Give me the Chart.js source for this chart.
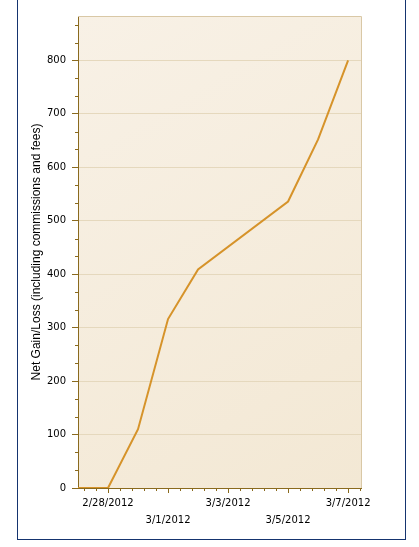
<!DOCTYPE html>
<html>
<head>
<meta charset="utf-8">
<script src="https://cdn.jsdelivr.net/npm/chart.js@4.4.1/dist/chart.umd.min.js"></script>
<style>
  html, body { margin: 0; padding: 0; background: #fff; overflow: hidden; }
  #wrap { position: relative; width: 419px; height: 547px; }
  #frame {
    position: absolute; left: 17px; top: -5px; width: 389px; height: 545px;
    border: 1px solid #15346f; box-sizing: border-box;
  }
  #netChart { position: absolute; left: 0; top: 0; }
</style>
</head>
<body>
<div id="wrap">
  <div id="frame"></div>
  <canvas id="netChart" width="419" height="547"></canvas>
</div>
<script>
// days counted from 2/27/2012 (2012 is a leap year, weekend 3/3-3/4 has no trades)
const tradeDates = ["2/27/2012", "2/28/2012", "2/29/2012", "3/1/2012", "3/2/2012", "3/5/2012", "3/6/2012", "3/7/2012"];
const tradeDays = [0, 1, 2, 3, 4, 7, 8, 9];
const netGain = [0, 0, 110, 316, 409, 536, 652, 800];

const xTickDays = [1, 3, 5, 7, 9];
const xTickLabels = ["2/28/2012", "3/1/2012", "3/3/2012", "3/5/2012", "3/7/2012"];
const yTicks = [0, 100, 200, 300, 400, 500, 600, 700, 800];

const axisBrown = "#8a6a1e";

// plot background, top/right border and minor ticks
const plotDecor = {
  id: "plotDecor",
  beforeDraw(chart) {
    const { ctx, chartArea: a } = chart;
    const g = ctx.createLinearGradient(a.left, a.top, a.right, a.bottom);
    g.addColorStop(0, "#f8f1e6");
    g.addColorStop(1, "#f3e8d4");
    ctx.save();
    ctx.fillStyle = g;
    ctx.fillRect(a.left, a.top, a.right - a.left, a.bottom - a.top);
    ctx.restore();
  },
  afterDraw(chart) {
    const { ctx, chartArea: a, scales } = chart;
    ctx.save();
    ctx.strokeStyle = "#d9c8a6";
    ctx.lineWidth = 1;
    ctx.beginPath();
    ctx.moveTo(a.left, a.top + 0.5);
    ctx.lineTo(a.right + 0.5, a.top + 0.5);
    ctx.lineTo(a.right + 0.5, a.bottom);
    ctx.stroke();

    ctx.strokeStyle = axisBrown;
    ctx.beginPath();
    // y minor ticks every 100/3
    for (let k = 1; k * 100 / 3 <= scales.y.max; k++) {
      if (k % 3 === 0) continue;
      const py = Math.round(scales.y.getPixelForValue(k * 100 / 3)) + 0.5;
      ctx.moveTo(a.left - 3, py);
      ctx.lineTo(a.left, py);
    }
    // x minor ticks every 0.4 day
    for (let k = 0; 0.2 + 0.4 * k <= scales.x.max; k++) {
      if (k % 5 === 2) continue;
      const px = Math.round(scales.x.getPixelForValue(0.2 + 0.4 * k)) + 0.5;
      ctx.moveTo(px, a.bottom);
      ctx.lineTo(px, a.bottom + 3);
    }
    ctx.stroke();
    ctx.restore();
  }
};

Chart.defaults.font.family = "'DejaVu Sans', sans-serif";
Chart.defaults.font.size = 10;
Chart.defaults.color = "#000";

new Chart(document.getElementById("netChart"), {
  type: "line",
  data: {
    datasets: [
      {
        label: "Net Gain/Loss",
        data: tradeDays.map((d, i) => ({ x: d, y: netGain[i] })),
        borderColor: "#d6932a",
        borderWidth: 2,
        pointRadius: 0,
        tension: 0,
        fill: false,
      },
    ],
  },
  options: {
    responsive: false,
    animation: false,
    layout: { padding: { left: 17, right: 58, top: 16, bottom: 0 } },
    plugins: {
      legend: { display: false },
      tooltip: { enabled: false },
    },
    scales: {
      x: {
        type: "linear",
        min: 0,
        max: 9.43,
        afterBuildTicks: (scale) => {
          scale.ticks = xTickDays.map((v) => ({ value: v }));
        },
        afterFit: (scale) => {
          scale.height = 59;
        },
        ticks: {
          autoSkip: false,
          maxRotation: 0,
          padding: 2,
          font: { lineHeight: 1.7 },
          callback: (value, index) =>
            index % 2 ? ["", xTickLabels[index]] : xTickLabels[index],
        },
        grid: {
          drawOnChartArea: false,
          tickLength: 5,
          tickColor: axisBrown,
        },
        border: { color: axisBrown },
      },
      y: {
        min: 0,
        max: 883,
        afterBuildTicks: (scale) => {
          scale.ticks = yTicks.map((v) => ({ value: v }));
        },
        afterFit: (scale) => {
          scale.width = 61;
        },
        ticks: { padding: 6 },
        grid: {
          color: "#e5d8bd",
          tickLength: 6,
          tickColor: axisBrown,
        },
        border: { color: axisBrown },
        title: {
          display: true,
          text: "Net Gain/Loss (including commissions and fees)",
          font: { family: "'Liberation Sans', sans-serif", size: 12 },
          padding: { top: 12, bottom: 0 },
        },
      },
    },
  },
  plugins: [plotDecor],
});
</script>
</body>
</html>
